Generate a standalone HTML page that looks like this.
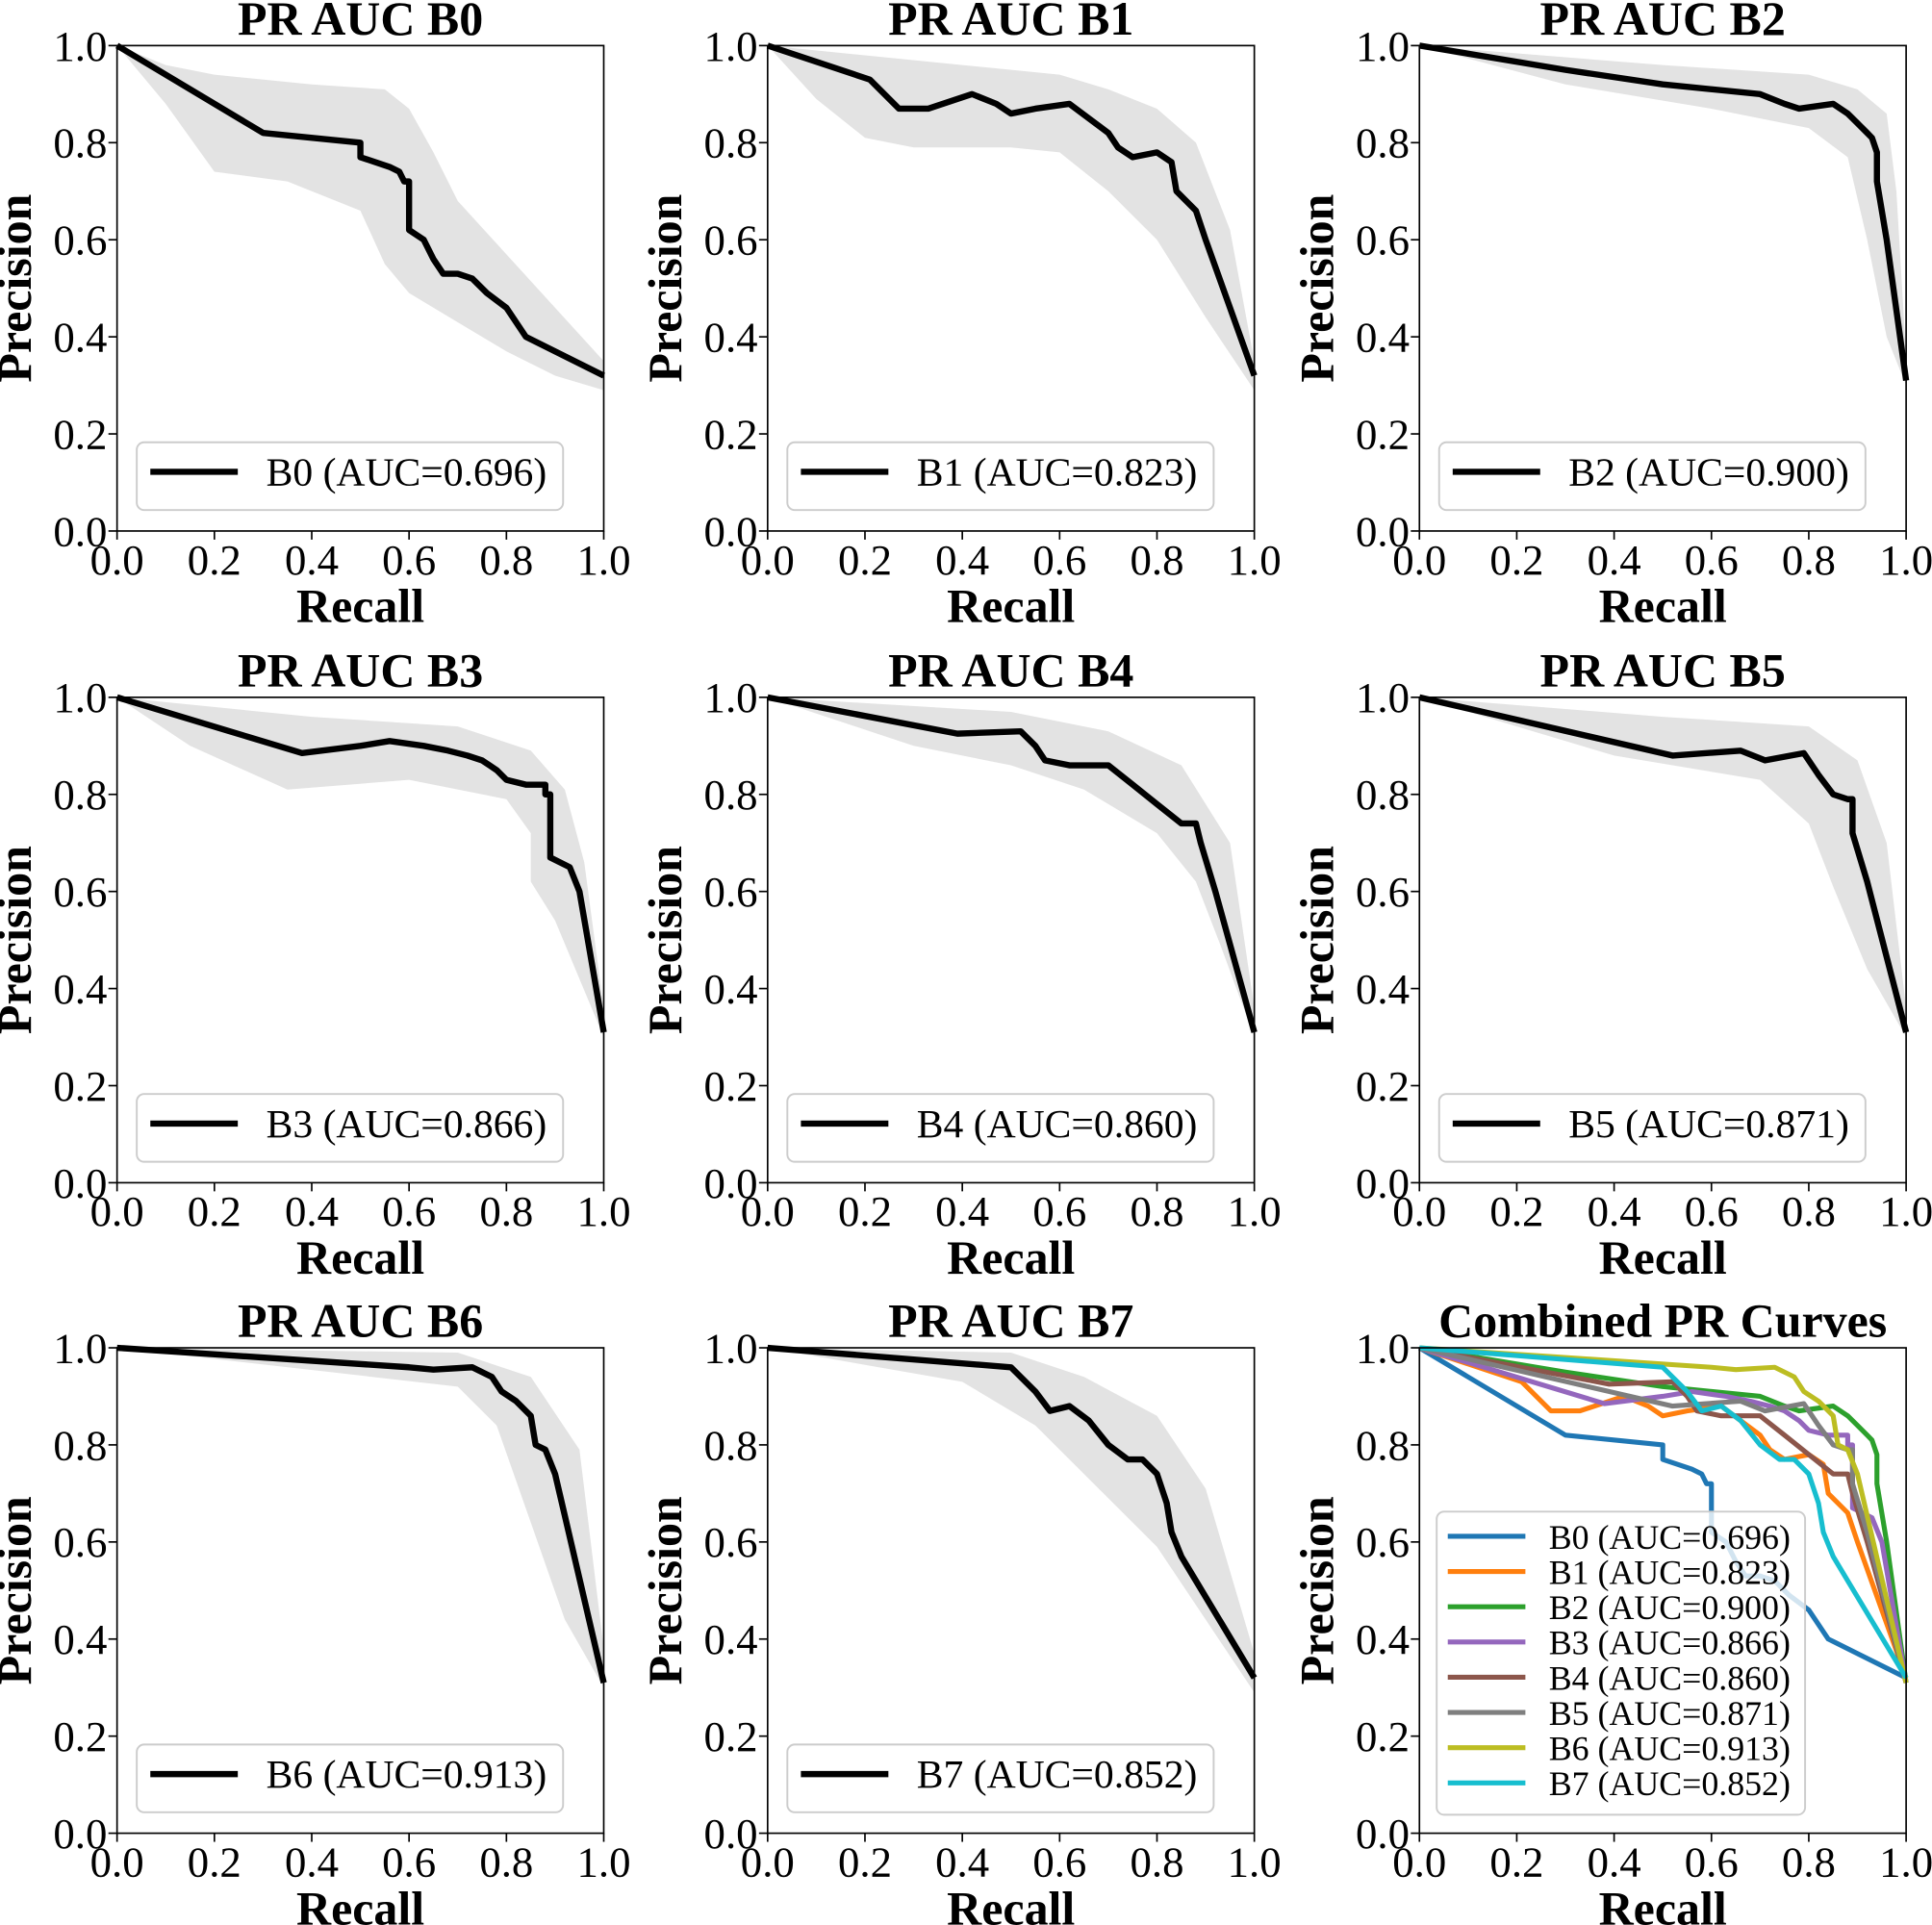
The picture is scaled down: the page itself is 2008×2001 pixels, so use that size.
<!DOCTYPE html>
<html><head><meta charset="utf-8"><style>
html,body{margin:0;padding:0;background:#fff;width:2008px;height:2001px;overflow:hidden}
svg{display:block}
text{font-family:"Liberation Serif",serif;fill:#000}
</style></head><body>
<svg id="s" width="2008" height="2001" viewBox="0 0 1568 1562.5" preserveAspectRatio="none" xmlns="http://www.w3.org/2000/svg"></svg>
<script>
var C={B0:"#1f77b4",B1:"#ff7f0e",B2:"#2ca02c",B3:"#9467bd",B4:"#8c564b",B5:"#7f7f7f",B6:"#bcbd22",B7:"#17becf"};
var D={
B0:{c:[[0,1],[0.3,0.82],[0.5,0.80],[0.5,0.77],[0.56,0.75],[0.58,0.74],[0.59,0.72],[0.6,0.72],[0.6,0.62],[0.63,0.6],[0.65,0.56],[0.67,0.53],[0.7,0.53],[0.73,0.52],[0.76,0.49],[0.8,0.46],[0.84,0.40],[1,0.32]],
 u:[[0,1],[0.1,0.96],[0.2,0.94],[0.4,0.92],[0.55,0.91],[0.6,0.87],[0.65,0.78],[0.7,0.68],[0.8,0.57],[0.9,0.46],[1,0.35]],
 l:[[0,1],[0.1,0.88],[0.2,0.74],[0.35,0.72],[0.5,0.66],[0.55,0.55],[0.6,0.49],[0.7,0.43],[0.8,0.37],[0.9,0.32],[1,0.29]],a:"0.696"},
B1:{c:[[0,1],[0.21,0.93],[0.27,0.87],[0.33,0.87],[0.42,0.90],[0.47,0.88],[0.5,0.86],[0.55,0.87],[0.62,0.88],[0.66,0.85],[0.7,0.82],[0.72,0.79],[0.75,0.77],[0.8,0.78],[0.83,0.76],[0.84,0.70],[0.88,0.66],[0.9,0.6],[1,0.32]],
 u:[[0,1],[0.2,0.98],[0.4,0.96],[0.6,0.94],[0.7,0.91],[0.8,0.87],[0.88,0.8],[0.95,0.62],[1,0.35]],
 l:[[0,1],[0.1,0.89],[0.2,0.81],[0.3,0.79],[0.5,0.79],[0.6,0.78],[0.7,0.7],[0.8,0.6],[0.9,0.44],[1,0.29]],a:"0.823"},
B2:{c:[[0,1],[0.3,0.95],[0.5,0.92],[0.7,0.90],[0.75,0.88],[0.78,0.87],[0.85,0.88],[0.88,0.86],[0.9,0.84],[0.92,0.82],[0.93,0.81],[0.94,0.78],[0.94,0.72],[0.96,0.6],[1,0.31]],
 u:[[0,1],[0.5,0.96],[0.8,0.94],[0.9,0.91],[0.96,0.86],[0.98,0.7],[1,0.36]],
 l:[[0,1],[0.3,0.92],[0.6,0.87],[0.8,0.83],[0.88,0.77],[0.92,0.6],[0.96,0.4],[1,0.3]],a:"0.900"},
B3:{c:[[0,1],[0.38,0.885],[0.5,0.90],[0.56,0.91],[0.63,0.90],[0.68,0.89],[0.72,0.88],[0.75,0.87],[0.78,0.85],[0.8,0.83],[0.84,0.82],[0.88,0.82],[0.88,0.80],[0.89,0.80],[0.89,0.67],[0.93,0.65],[0.95,0.6],[1,0.31]],
 u:[[0,1],[0.4,0.96],[0.7,0.94],[0.85,0.89],[0.92,0.81],[0.96,0.66],[1,0.36]],
 l:[[0,1],[0.15,0.9],[0.35,0.81],[0.6,0.83],[0.8,0.79],[0.85,0.72],[0.85,0.62],[0.9,0.54],[1,0.3]],a:"0.866"},
B4:{c:[[0,1],[0.39,0.925],[0.52,0.93],[0.55,0.90],[0.57,0.87],[0.62,0.86],[0.7,0.86],[0.75,0.82],[0.8,0.78],[0.85,0.74],[0.88,0.74],[0.89,0.70],[0.92,0.6],[1,0.31]],
 u:[[0,1],[0.5,0.97],[0.7,0.93],[0.85,0.86],[0.95,0.7],[1,0.36]],
 l:[[0,1],[0.3,0.9],[0.5,0.86],[0.65,0.81],[0.8,0.72],[0.88,0.62],[0.93,0.49],[1,0.3]],a:"0.860"},
B5:{c:[[0,1],[0.52,0.88],[0.66,0.89],[0.71,0.87],[0.79,0.885],[0.82,0.84],[0.85,0.80],[0.88,0.79],[0.89,0.79],[0.89,0.72],[0.92,0.62],[1,0.31]],
 u:[[0,1],[0.5,0.96],[0.8,0.94],[0.9,0.87],[0.96,0.7],[1,0.36]],
 l:[[0,1],[0.4,0.88],[0.7,0.83],[0.8,0.74],[0.85,0.61],[0.92,0.44],[1,0.3]],a:"0.871"},
B6:{c:[[0,1],[0.6,0.96],[0.65,0.955],[0.73,0.96],[0.77,0.94],[0.79,0.91],[0.82,0.89],[0.85,0.86],[0.86,0.80],[0.88,0.79],[0.9,0.74],[1,0.31]],
 u:[[0,1],[0.7,0.99],[0.85,0.94],[0.95,0.79],[1,0.38]],
 l:[[0,1],[0.7,0.92],[0.78,0.84],[0.85,0.64],[0.92,0.44],[1,0.3]],a:"0.913"},
B7:{c:[[0,1],[0.5,0.96],[0.55,0.91],[0.58,0.87],[0.62,0.88],[0.66,0.85],[0.7,0.80],[0.74,0.77],[0.77,0.77],[0.8,0.74],[0.82,0.68],[0.83,0.62],[0.85,0.57],[0.88,0.52],[1,0.32]],
 u:[[0,1],[0.5,0.99],[0.65,0.94],[0.8,0.86],[0.9,0.71],[1,0.37]],
 l:[[0,1],[0.4,0.93],[0.55,0.84],[0.7,0.69],[0.8,0.59],[0.9,0.44],[1,0.29]],a:"0.852"}
};
var X=[95,623,1152],Y=[37,566,1094],W=395,H=394,h="";
function pts(a,x0,y0){return a.map(function(p){return (x0+W*p[0]).toFixed(1)+","+(y0+H*(1-p[1])).toFixed(1)}).join(" ")}
function axes(x0,y0,title){
 var s="";
 for(var i=0;i<=5;i++){var v=(i*0.2).toFixed(1);
  var tx=x0+W*i/5, ty=y0+H*(1-i/5);
  s+='<line x1="'+tx+'" y1="'+(y0+H)+'" x2="'+tx+'" y2="'+(y0+H+7)+'" stroke="#000" stroke-width="1.3"/>';
  s+='<text x="'+tx+'" y="'+(y0+H+35)+'" font-size="35" text-anchor="middle">'+v+'</text>';
  s+='<line x1="'+x0+'" y1="'+ty+'" x2="'+(x0-7)+'" y2="'+ty+'" stroke="#000" stroke-width="1.3"/>';
  s+='<text x="'+(x0-8)+'" y="'+(ty+12)+'" font-size="35" text-anchor="end">'+v+'</text>';}
 s+='<rect x="'+x0+'" y="'+y0+'" width="'+W+'" height="'+H+'" fill="none" stroke="#000" stroke-width="1.3"/>';
 s+='<text x="'+(x0+W/2)+'" y="'+(y0-9)+'" font-size="39" font-weight="bold" text-anchor="middle">'+title+'</text>';
 s+='<text x="'+(x0+W/2)+'" y="'+(y0+H+74)+'" font-size="39" font-weight="bold" text-anchor="middle">Recall</text>';
 s+='<text transform="translate('+(x0-70)+','+(y0+H/2)+') rotate(-90)" font-size="39" font-weight="bold" text-anchor="middle">Precision</text>';
 return s;}
var keys=Object.keys(D);
keys.forEach(function(k,i){
 var x0=X[i%3],y0=Y[Math.floor(i/3)],d=D[k];
 h+='<polygon points="'+pts(d.u,x0,y0)+' '+pts(d.l.slice().reverse(),x0,y0)+'" fill="#e3e3e3"/>';
 h+='<polyline points="'+pts(d.c,x0,y0)+'" fill="none" stroke="#000" stroke-width="5" stroke-linejoin="round"/>';
 h+='<rect x="'+(x0+16)+'" y="'+(y0+322)+'" width="346" height="55" rx="6" fill="#fff" fill-opacity="0.8" stroke="#ccc" stroke-width="1.5"/>';
 h+='<line x1="'+(x0+27)+'" y1="'+(y0+346)+'" x2="'+(x0+98)+'" y2="'+(y0+346)+'" stroke="#000" stroke-width="5"/>';
 h+='<text x="'+(x0+121)+'" y="'+(y0+357)+'" font-size="32.5">'+k+' (AUC='+d.a+')</text>';
 h+=axes(x0,y0,"PR AUC "+k);
});
var x0=1152,y0=1094;
keys.forEach(function(k){h+='<polyline points="'+pts(D[k].c,x0,y0)+'" fill="none" stroke="'+C[k]+'" stroke-width="4" stroke-linejoin="round"/>';});
h+='<rect x="1166" y="1227" width="299" height="246" rx="6" fill="#fff" fill-opacity="0.8" stroke="#ccc" stroke-width="1.5"/>';
keys.forEach(function(k,i){var y=1247+i*28.6;
 h+='<line x1="1175" y1="'+y+'" x2="1238" y2="'+y+'" stroke="'+C[k]+'" stroke-width="4"/>';
 h+='<text x="1257" y="'+(y+10)+'" font-size="28">'+k+' (AUC='+D[k].a+')</text>';});
h+=axes(x0,y0,"Combined PR Curves");
document.getElementById("s").innerHTML=h;
</script>
</body></html>
